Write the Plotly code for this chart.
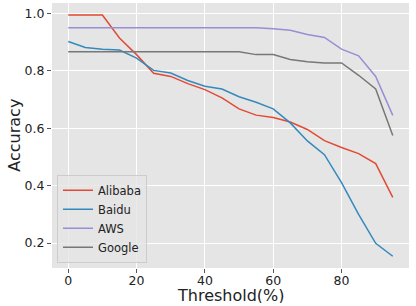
import plotly.graph_objects as go

thresholds = [0, 5, 10, 15, 20, 25, 30, 35, 40, 45, 50, 55, 60, 65, 70, 75, 80, 85, 90, 95]
alibaba = [0.995, 0.995, 0.995, 0.915, 0.857, 0.792, 0.781, 0.756, 0.735, 0.706, 0.668, 0.646, 0.638, 0.622, 0.596, 0.557, 0.533, 0.512, 0.477, 0.359]
baidu = [0.903, 0.882, 0.876, 0.873, 0.845, 0.802, 0.793, 0.767, 0.747, 0.737, 0.710, 0.691, 0.668, 0.619, 0.556, 0.508, 0.411, 0.300, 0.199, 0.154]
aws = [0.951, 0.951, 0.951, 0.951, 0.951, 0.951, 0.951, 0.951, 0.951, 0.951, 0.951, 0.951, 0.947, 0.942, 0.927, 0.917, 0.876, 0.853, 0.781, 0.645]
google = [0.867, 0.867, 0.867, 0.867, 0.867, 0.867, 0.867, 0.867, 0.867, 0.867, 0.867, 0.857, 0.857, 0.840, 0.832, 0.828, 0.828, 0.785, 0.737, 0.575]
x_ticks = [0, 20, 40, 60, 80]
y_ticks = [0.2, 0.4, 0.6, 0.8, 1.0]

series = [("Alibaba", alibaba, "#E24A33"), ("Baidu", baidu, "#348ABD"),
          ("AWS", aws, "#988ED5"), ("Google", google, "#777777")]

fig = go.Figure()
for name, vals, col in series:
    fig.add_trace(go.Scatter(x=thresholds, y=vals, mode="lines", name=name,
                             line=dict(color=col, width=1.5)))

fig.update_layout(
    width=416, height=306,
    margin=dict(l=52, r=7, t=3, b=38),
    paper_bgcolor="white", plot_bgcolor="#E5E5E5",
    font=dict(family="DejaVu Sans", color="#222222", size=12),
    legend=dict(x=0.014, y=0.02, xanchor="left", yanchor="bottom",
                bgcolor="rgba(229,229,229,0.8)", bordercolor="#CCCCCC", borderwidth=1,
                font=dict(size=11.5, color="#222222"), itemwidth=30),
    showlegend=True,
    annotations=[
        dict(text="Threshold(%)", xref="paper", yref="paper", x=0.5, y=-0.1038,
             xanchor="center", yanchor="middle", height=15, borderpad=0, showarrow=False,
             font=dict(size=16, color="#222222")),
        dict(text="Accuracy", xref="paper", yref="paper", x=-0.106, y=0.5,
             xanchor="center", yanchor="middle", textangle=-90, showarrow=False,
             font=dict(size=16, color="#222222")),
    ],
)
fig.update_xaxes(range=[-4.75, 99.75], tickvals=x_ticks, automargin=False,
                 showgrid=True, gridcolor="white", gridwidth=1, zeroline=False,
                 ticks="outside", ticklen=4, tickcolor="#555555", ticklabelstandoff=-3,
                 tickfont=dict(size=12.5, color="#222222"))
fig.update_yaxes(range=[0.113, 1.037], tickvals=y_ticks, automargin=False,
                 tickformat=".1f",
                 showgrid=True, gridcolor="white", gridwidth=1, zeroline=False,
                 ticks="outside", ticklen=4, tickcolor="#555555",
                 tickfont=dict(size=12.5, color="#222222"))

fig.write_html("out.html", config={"displayModeBar": False},
               post_script="document.body.style.margin='0';document.body.style.padding='0';")
